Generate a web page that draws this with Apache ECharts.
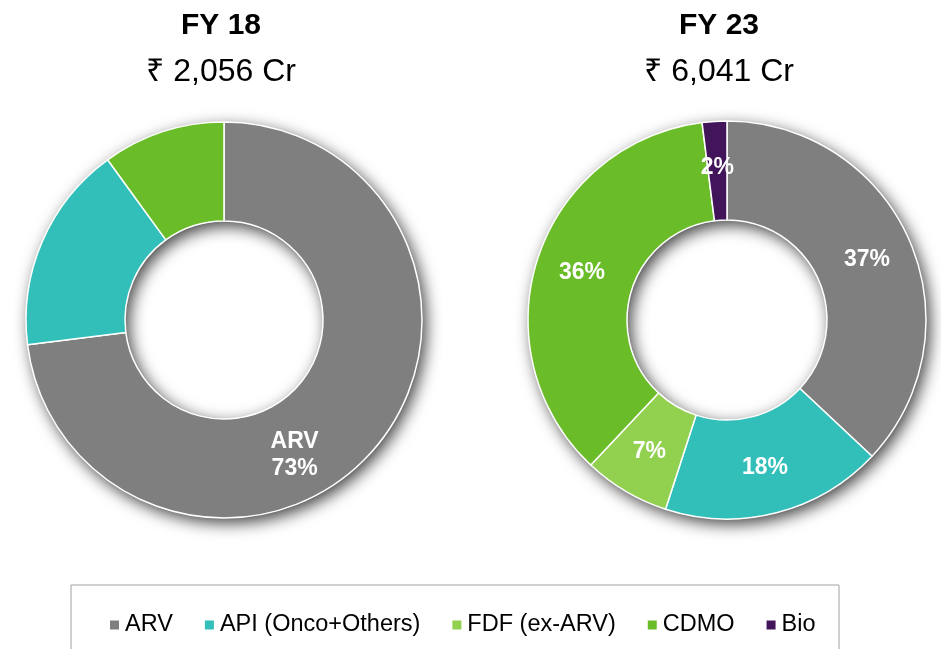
<!DOCTYPE html>
<html>
<head>
<meta charset="utf-8">
<title>Revenue mix FY18 vs FY23</title>
<script src="https://cdn.jsdelivr.net/npm/echarts@6/dist/echarts.min.js"></script>
<style>
  html, body { margin: 0; padding: 0; background: #ffffff; }
  #chart { width: 941px; height: 649px; }
</style>
</head>
<body>
<div id="chart"></div>
<script>
// Segment names, in the order they are drawn clockwise from 12 o'clock
const segments = ['ARV', 'API (Onco+Others)', 'FDF (ex-ARV)', 'CDMO', 'Bio'];
const segmentColors = ['#7f7f7f', '#33bfb9', '#92d050', '#6abd29', '#421459'];

// FY18 share of revenue (%)
const fy18Names = ['ARV', 'API (Onco+Others)', 'CDMO'];
const fy18Share = [73, 17, 10];

// FY23 share of revenue (%)
const fy23Names = ['ARV', 'API (Onco+Others)', 'FDF (ex-ARV)', 'CDMO', 'Bio'];
const fy23Share = [37, 18, 7, 36, 2];

// Period headings
const periodTitles = ['FY 18', 'FY 23'];
const periodTotals = ['\u20B9 2,056 Cr', '\u20B9 6,041 Cr'];

const FONT = '"Liberation Sans", Arial, "Noto Sans", sans-serif';
const colorOf = name => segmentColors[segments.indexOf(name)];

function sliceData(names, values, labelled) {
  return names.map((n, i) => ({
    name: n,
    value: values[i],
    itemStyle: { color: colorOf(n) },
    label: { show: labelled(n) }
  }));
}

const ringStyle = {
  borderColor: '#ffffff',
  borderWidth: 1.5
};

// a plain ring behind each donut that carries the soft drop shadow
function shadowRing(center, radius) {
  return {
    type: 'pie',
    silent: true,
    center: center,
    radius: radius,
    z: 1,
    label: { show: false },
    labelLine: { show: false },
    itemStyle: {
      color: '#ffffff',
      shadowBlur: 16,
      shadowOffsetX: 4,
      shadowOffsetY: 5,
      shadowColor: 'rgba(0,0,0,0.75)'
    },
    data: [{ name: '', value: 1 }]
  };
}

const labelStyle = {
  position: 'inside',
  color: '#ffffff',
  fontFamily: FONT,
  fontWeight: 'bold',
  fontSize: 23,
  lineHeight: 27
};

const chart = echarts.init(document.getElementById('chart'), null, { renderer: 'canvas' });

chart.setOption({
  backgroundColor: '#ffffff',
  animation: false,
  title: [
    {
      text: periodTitles[0],
      subtext: periodTotals[0],
      left: 216, top: 6, textAlign: 'center',
      itemGap: 15,
      textStyle: { fontFamily: FONT, fontWeight: 'bold', fontSize: 30, lineHeight: 30, color: '#000' },
      subtextStyle: { fontFamily: FONT, fontSize: 32, lineHeight: 32, color: '#000' }
    },
    {
      text: periodTitles[1],
      subtext: periodTotals[1],
      left: 714, top: 6, textAlign: 'center',
      itemGap: 15,
      textStyle: { fontFamily: FONT, fontWeight: 'bold', fontSize: 30, lineHeight: 30, color: '#000' },
      subtextStyle: { fontFamily: FONT, fontSize: 32, lineHeight: 32, color: '#000' }
    }
  ],
  legend: {
    data: segments,
    left: 103,
    top: 608,
    icon: 'rect',
    itemWidth: 11,
    itemHeight: 11,
    itemGap: 30,
    selectedMode: false,
    textStyle: {
      fontFamily: FONT,
      fontSize: 23.5,
      color: '#000'
    }
  },
  graphic: [
    {
      type: 'rect',
      shape: { x: 71, y: 585, width: 768, height: 90 },
      style: { fill: 'none', stroke: '#a0a0a0', lineWidth: 1 },
      silent: true
    }
  ],
  series: [
    shadowRing([224, 320], [99, 198]),
    shadowRing([727, 320], [100, 199]),
    {
      name: periodTitles[0],
      type: 'pie',
      z: 2,
      center: [224, 320],
      radius: [99, 198],
      startAngle: 90,
      clockwise: true,
      avoidLabelOverlap: false,
      itemStyle: ringStyle,
      label: Object.assign({}, labelStyle, { formatter: '{b}\n{c}%' }),
      labelLine: { show: false },
      labelLayout: p => (p.dataIndex === 0 ? { dx: -43, dy: 35 } : {}),
      emphasis: { disabled: true },
      data: sliceData(fy18Names, fy18Share, n => n === 'ARV')
    },
    {
      name: periodTitles[1],
      type: 'pie',
      z: 2,
      center: [727, 320],
      radius: [100, 199],
      startAngle: 90,
      clockwise: true,
      avoidLabelOverlap: false,
      itemStyle: ringStyle,
      label: Object.assign({}, labelStyle, { formatter: '{c}%' }),
      labelLine: { show: false },
      emphasis: { disabled: true },
      data: sliceData(fy23Names, fy23Share, () => true)
    }
  ]
});
</script>
</body>
</html>
